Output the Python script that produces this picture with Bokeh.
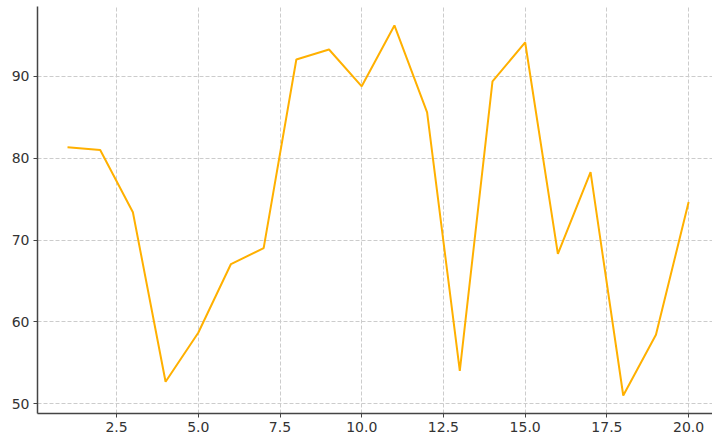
from bokeh.plotting import figure
from bokeh.models import Range1d, FixedTicker, NumeralTickFormatter
from bokeh.embed import file_html
from bokeh.resources import INLINE

# Data
x_values = list(range(1, 21))
y_values = [81.35, 81.0, 73.4, 52.66, 58.65, 67.06, 69.0, 92.08, 93.3, 88.8,
            96.24, 85.6, 54.0, 89.4, 94.16, 68.3, 78.3, 50.98, 58.4, 74.65]
x_ticks = [2.5, 5.0, 7.5, 10.0, 12.5, 15.0, 17.5, 20.0]
y_ticks = [50, 60, 70, 80, 90]

p = figure(width=712, height=437, output_backend="svg", toolbar_location=None,
           x_range=Range1d(0.082, 20.73), y_range=Range1d(48.78, 98.56),
           min_border_left=37, min_border_bottom=24, min_border_right=0, min_border_top=6)
p.outline_line_color = None

p.line(x_values, y_values, line_color="#FFB000", line_width=2)

for ax in (p.xaxis[0], p.yaxis[0]):
    ax.axis_line_color = "#444444"
    ax.axis_line_width = 1.5
    ax.major_tick_line_color = "#444444"
    ax.major_tick_out = 4
    ax.major_tick_in = 0
    ax.minor_tick_line_color = None
    ax.major_label_text_font = "DejaVu Sans"
    ax.major_label_text_font_size = "14px"
    ax.major_label_text_color = "#333333"
    ax.major_label_standoff = 4

p.xaxis[0].ticker = FixedTicker(ticks=x_ticks)
p.xaxis[0].formatter = NumeralTickFormatter(format="0.0")
p.yaxis[0].ticker = FixedTicker(ticks=y_ticks)

for g in (p.xgrid[0], p.ygrid[0]):
    g.grid_line_color = "#cccccc"
    g.grid_line_dash = "4 2"
    g.grid_line_width = 1

open("out.html", "w").write(file_html(p, INLINE))
